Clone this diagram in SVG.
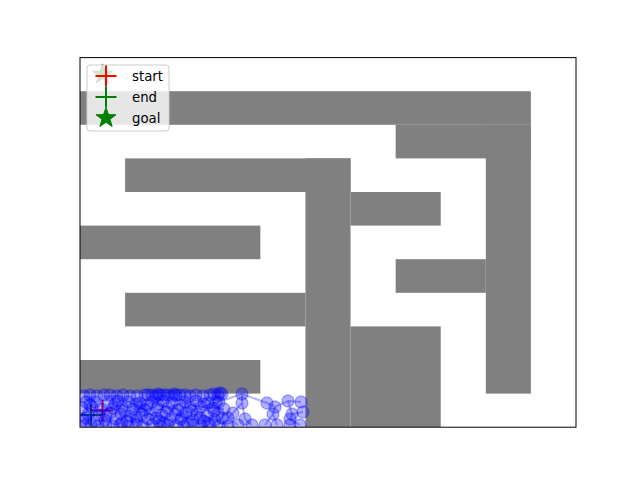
<svg xmlns="http://www.w3.org/2000/svg" xmlns:xlink="http://www.w3.org/1999/xlink" width="640" height="480" viewBox="0 0 640 480">
<style>
.ob{fill:#808080}
.n{fill:#0000ff;fill-opacity:0.3;stroke:#0000ff;stroke-opacity:0.3;stroke-width:1.4}
.e{stroke:#0000ff;stroke-opacity:0.3;stroke-width:2;fill:none}
.lt{font-family:"DejaVu Sans",sans-serif;font-size:13.3px;fill:#000}
</style>
<defs>
<clipPath id="ax"><rect x="80" y="57.6" width="496" height="369.6"/></clipPath>
<path id="star" d="M0,-10.5 L2.47,-3.4 L9.99,-3.24 L3.99,1.3 L6.17,8.49 L0,4.2 L-6.17,8.49 L-3.99,1.3 L-9.99,-3.24 L-2.47,-3.4 Z"/>
<path id="plus" d="M-10.5,0 H10.5 M0,-10.5 V10.5"/>
</defs>
<rect width="640" height="480" fill="#fff"/>
<g id="plot" clip-path="url(#ax)">
<g id="obstacles">
<rect class="ob" x="80" y="91.2" width="450.9" height="33.6"/>
<rect class="ob" x="395.64" y="124.8" width="135.26" height="33.6"/>
<rect class="ob" x="485.82" y="124.8" width="45.08" height="268.8"/>
<rect class="ob" x="125.09" y="158.4" width="225.46" height="33.6"/>
<rect class="ob" x="305.45" y="158.4" width="45.1" height="268.8"/>
<rect class="ob" x="350.55" y="192" width="90.18" height="33.6"/>
<rect class="ob" x="80" y="225.6" width="180.36" height="33.6"/>
<rect class="ob" x="395.64" y="259.2" width="90.18" height="33.6"/>
<rect class="ob" x="125.09" y="292.8" width="180.36" height="33.6"/>
<rect class="ob" x="350.55" y="326.4" width="90.18" height="100.8"/>
<rect class="ob" x="80" y="360" width="180.36" height="33.6"/>
</g>
<g id="goal"><use xlink:href="#star" x="102.5" y="74.4" fill="#008000" stroke="#008000" stroke-width="1"/></g>
<g id="start"><use xlink:href="#plus" x="102.5" y="410.4" stroke="#ff0000" stroke-width="2"/></g>
<g id="end"><use xlink:href="#plus" x="91" y="415" stroke="#008000" stroke-width="2"/></g>
<g id="connectors">
<path class="e" d="M218,402 L242,394 L267,403 L275,407 L288,401 L301,402"/>
<path class="e" d="M242,394 L242,403 L233,413 L228,418"/>
<path class="e" d="M275,407 L273,414 L265,425"/>
<path class="e" d="M288,401 L292,414 L303,412"/>
<path class="e" d="M292,414 L290,419 L300,425"/>
<path class="e" d="M242,403 L245,419 L252,425"/>
<path class="e" d="M228,418 L238,425"/>
<path class="e" d="M273,414 L277,425"/>
<path class="e" d="M102,410 L113,408 L128,402 L140,407 L152,402 L168,408 L185,402 L201,407 L219,402"/>
<path class="e" d="M102,410 L92,415 L83,420"/>
<path class="e" d="M113,408 L121,414 L137,420 L152,425"/>
<path class="e" d="M140,407 L150,414 L170,420 L184,426"/>
<path class="e" d="M185,402 L197,414 L215,420 L228,426"/>
<path class="e" d="M128,402 L117,396 L104,396"/>
<path class="e" d="M168,408 L175,414 L193,420"/>
<path class="e" d="M201,407 L213,408 L224,409"/>
<path class="e" d="M95,402 L86,396"/>
<path class="e" d="M105,420 L98,426"/>
</g>
<g id="nodes">
<circle class="n" cx="84" cy="396" r="6"/><circle class="n" cx="90" cy="395" r="6"/><circle class="n" cx="97" cy="396" r="6"/><circle class="n" cx="104" cy="395" r="6"/><circle class="n" cx="110" cy="395" r="6"/><circle class="n" cx="117" cy="396" r="6"/><circle class="n" cx="123" cy="395" r="6"/><circle class="n" cx="130" cy="396" r="6"/><circle class="n" cx="137" cy="396" r="6"/>
<circle class="n" cx="145" cy="395" r="6"/><circle class="n" cx="148" cy="395" r="6"/><circle class="n" cx="152" cy="395" r="6"/><circle class="n" cx="156" cy="396" r="6"/><circle class="n" cx="160" cy="395" r="6"/><circle class="n" cx="164" cy="395" r="6"/><circle class="n" cx="168" cy="395" r="6"/><circle class="n" cx="172" cy="396" r="6"/><circle class="n" cx="176" cy="395" r="6"/><circle class="n" cx="180" cy="395" r="6"/><circle class="n" cx="185" cy="395" r="6"/><circle class="n" cx="190" cy="396" r="6"/><circle class="n" cx="196" cy="395" r="6"/><circle class="n" cx="203" cy="396" r="6"/><circle class="n" cx="210" cy="395" r="6"/><circle class="n" cx="214" cy="394" r="6"/><circle class="n" cx="218" cy="395" r="6"/><circle class="n" cx="222" cy="394" r="6"/>
<circle class="n" cx="86" cy="402" r="6"/><circle class="n" cx="95" cy="402" r="6"/><circle class="n" cx="108" cy="403" r="6"/><circle class="n" cx="118" cy="401" r="6"/><circle class="n" cx="128" cy="402" r="6"/><circle class="n" cx="140" cy="403" r="6"/><circle class="n" cx="152" cy="402" r="6"/><circle class="n" cx="163" cy="401" r="6"/><circle class="n" cx="172" cy="403" r="6"/><circle class="n" cx="185" cy="402" r="6"/><circle class="n" cx="196" cy="401" r="6"/><circle class="n" cx="208" cy="403" r="6"/><circle class="n" cx="219" cy="402" r="6"/>
<circle class="n" cx="82" cy="408" r="6"/><circle class="n" cx="92" cy="407" r="6"/><circle class="n" cx="101" cy="409" r="6"/><circle class="n" cx="113" cy="408" r="6"/><circle class="n" cx="122" cy="407" r="6"/><circle class="n" cx="133" cy="409" r="6"/><circle class="n" cx="140" cy="407" r="6"/><circle class="n" cx="145" cy="410" r="6"/><circle class="n" cx="157" cy="408" r="6"/><circle class="n" cx="168" cy="408" r="6"/><circle class="n" cx="178" cy="410" r="6"/><circle class="n" cx="190" cy="407" r="6"/><circle class="n" cx="201" cy="407" r="6"/><circle class="n" cx="213" cy="408" r="6"/><circle class="n" cx="224" cy="409" r="6"/>
<circle class="n" cx="88" cy="414" r="6"/><circle class="n" cx="99" cy="415" r="6"/><circle class="n" cx="110" cy="413" r="6"/><circle class="n" cx="121" cy="414" r="6"/><circle class="n" cx="130" cy="416" r="6"/><circle class="n" cx="142" cy="414" r="6"/><circle class="n" cx="150" cy="414" r="6"/><circle class="n" cx="162" cy="415" r="6"/><circle class="n" cx="175" cy="414" r="6"/><circle class="n" cx="186" cy="413" r="6"/><circle class="n" cx="197" cy="414" r="6"/><circle class="n" cx="207" cy="416" r="6"/><circle class="n" cx="218" cy="414" r="6"/>
<circle class="n" cx="83" cy="420" r="6"/><circle class="n" cx="94" cy="421" r="6"/><circle class="n" cx="105" cy="420" r="6"/><circle class="n" cx="116" cy="419" r="6"/><circle class="n" cx="127" cy="421" r="6"/><circle class="n" cx="137" cy="420" r="6"/><circle class="n" cx="148" cy="419" r="6"/><circle class="n" cx="159" cy="421" r="6"/><circle class="n" cx="170" cy="420" r="6"/><circle class="n" cx="181" cy="419" r="6"/><circle class="n" cx="193" cy="420" r="6"/><circle class="n" cx="204" cy="421" r="6"/><circle class="n" cx="215" cy="420" r="6"/>
<circle class="n" cx="84" cy="426" r="6"/><circle class="n" cx="91" cy="425" r="6"/><circle class="n" cx="98" cy="426" r="6"/><circle class="n" cx="106" cy="425" r="6"/><circle class="n" cx="113" cy="426" r="6"/><circle class="n" cx="120" cy="425" r="6"/><circle class="n" cx="128" cy="426" r="6"/><circle class="n" cx="136" cy="425" r="6"/><circle class="n" cx="143" cy="426" r="6"/><circle class="n" cx="152" cy="425" r="6"/><circle class="n" cx="160" cy="426" r="6"/><circle class="n" cx="168" cy="425" r="6"/><circle class="n" cx="176" cy="426" r="6"/><circle class="n" cx="184" cy="426" r="6"/><circle class="n" cx="193" cy="425" r="6"/><circle class="n" cx="201" cy="426" r="6"/><circle class="n" cx="210" cy="425" r="6"/><circle class="n" cx="219" cy="426" r="6"/><circle class="n" cx="228" cy="426" r="6"/>
<circle class="n" cx="90" cy="405" r="6"/><circle class="n" cx="115" cy="404" r="6"/><circle class="n" cx="125" cy="411" r="6"/><circle class="n" cx="136" cy="404" r="6"/><circle class="n" cx="147" cy="405" r="6"/><circle class="n" cx="158" cy="404" r="6"/><circle class="n" cx="166" cy="412" r="6"/><circle class="n" cx="180" cy="405" r="6"/><circle class="n" cx="192" cy="411" r="6"/><circle class="n" cx="204" cy="404" r="6"/><circle class="n" cx="214" cy="411" r="6"/><circle class="n" cx="106" cy="416" r="6"/><circle class="n" cx="136" cy="417" r="6"/><circle class="n" cx="156" cy="418" r="6"/><circle class="n" cx="182" cy="417" r="6"/><circle class="n" cx="200" cy="418" r="6"/><circle class="n" cx="86" cy="418" r="6"/><circle class="n" cx="122" cy="423" r="6"/><circle class="n" cx="164" cy="423" r="6"/><circle class="n" cx="188" cy="423" r="6"/><circle class="n" cx="208" cy="423" r="6"/><circle class="n" cx="222" cy="418" r="6"/><circle class="n" cx="216" cy="402" r="6"/><circle class="n" cx="220" cy="393" r="6"/><circle class="n" cx="158" cy="394" r="6"/><circle class="n" cx="174" cy="394" r="6"/>
<circle class="n" cx="242" cy="394" r="6"/><circle class="n" cx="242" cy="403" r="6"/><circle class="n" cx="233" cy="413" r="6"/><circle class="n" cx="228" cy="418" r="6"/><circle class="n" cx="245" cy="419" r="6"/><circle class="n" cx="252" cy="425" r="6"/><circle class="n" cx="238" cy="425" r="6"/><circle class="n" cx="267" cy="403" r="6"/><circle class="n" cx="275" cy="407" r="6"/><circle class="n" cx="288" cy="401" r="6"/><circle class="n" cx="301" cy="402" r="6"/><circle class="n" cx="303" cy="412" r="6"/><circle class="n" cx="292" cy="414" r="6"/><circle class="n" cx="290" cy="419" r="6"/><circle class="n" cx="273" cy="414" r="6"/><circle class="n" cx="265" cy="425" r="6"/><circle class="n" cx="277" cy="425" r="6"/><circle class="n" cx="290" cy="425" r="6"/><circle class="n" cx="300" cy="425" r="6"/>
</g>
</g>
<rect x="80" y="57.6" width="496" height="369.6" fill="none" stroke="#000" stroke-width="1"/>
<g id="legend">
<rect x="87" y="65" width="82" height="66" rx="3" fill="#fff" fill-opacity="0.8" stroke="#cccccc" stroke-width="1"/>
<use xlink:href="#plus" x="106" y="76" stroke="#ff0000" stroke-width="2"/>
<text class="lt" x="132" y="81">start</text>
<use xlink:href="#plus" x="106" y="97" stroke="#008000" stroke-width="2"/>
<text class="lt" x="132" y="102">end</text>
<use xlink:href="#star" x="106" y="118" fill="#008000" stroke="#008000" stroke-width="1"/>
<text class="lt" x="132" y="123">goal</text>
</g>
</svg>
